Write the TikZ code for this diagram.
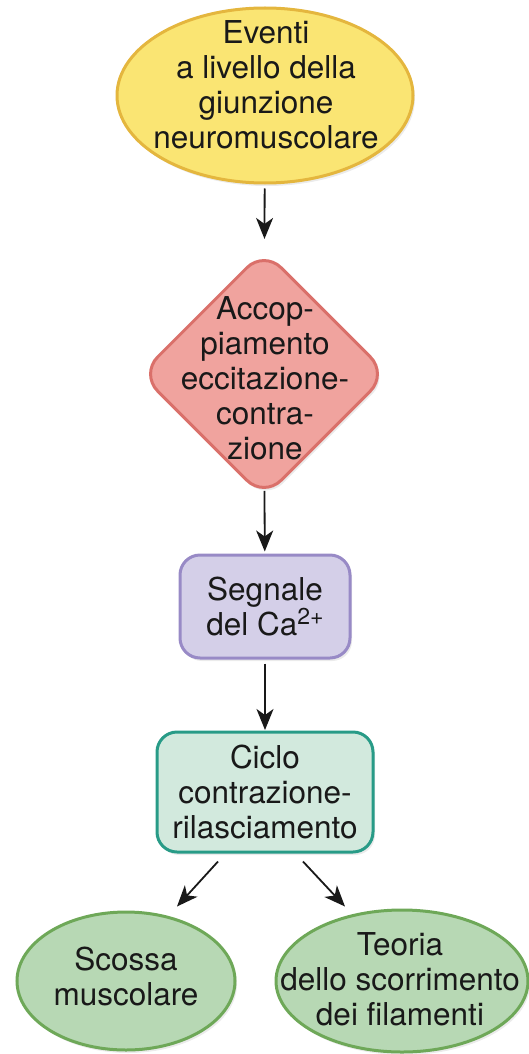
\documentclass[tikz,border=0pt]{standalone}
\usepackage{fontspec}
\setmainfont{TeX Gyre Heros}
\usetikzlibrary{arrows.meta,shapes.geometric,shadows}
\definecolor{yelF}{RGB}{250,229,115}
\definecolor{yelD}{RGB}{228,182,62}
\definecolor{redF}{RGB}{240,163,158}
\definecolor{redD}{RGB}{218,112,106}
\definecolor{purF}{RGB}{212,207,232}
\definecolor{purD}{RGB}{152,138,198}
\definecolor{teaF}{RGB}{210,233,221}
\definecolor{teaD}{RGB}{40,155,135}
\definecolor{greF}{RGB}{183,216,180}
\definecolor{greD}{RGB}{110,168,88}
\definecolor{txtC}{RGB}{25,25,25}
\tikzset{
  x=1pt, y=-1pt,
  shad/.style={drop shadow={opacity=0.16, shadow xshift=2pt, shadow yshift=-3pt}},
  txt/.style={align=center, inner sep=0pt, text=txtC, font=\fontsize{31.5}{35}\selectfont},
  oval/.style={ellipse, line width=3pt, inner sep=0pt, shad},
  rbox/.style={rectangle, rounded corners=20pt, line width=3pt, inner sep=0pt, shad, txt},
  arr/.style={line width=1.8pt, draw=black!90, -{Stealth[length=21pt,width=17pt,inset=6pt]}}
}
\newcommand{\supCa}{\raisebox{0.36em}{\fontsize{23}{23}\selectfont 2+}}
\begin{document}
\begin{tikzpicture}
\useasboundingbox (0,0) rectangle (529,1054);
% top ellipse
\node[oval, fill=yelF, draw=yelD, minimum width=296pt, minimum height=175pt] (ev) at (265,95.5) {};
\node[txt] (evt) at (266,85) {Eventi\\a livello della\\giunzione\\neuromuscolare};
% diamond
\node[diamond, fill=redF, draw=redD, line width=3pt, rounded corners=24pt, inner sep=0pt, minimum width=248pt, minimum height=248pt, shad] (acc) at (264,374) {};
\node[txt] (acct) at (265,378) {Accop-\\piamento\\eccitazione-\\contra-\\zione};
% purple box
\node[rbox, fill=purF, draw=purD, minimum width=170pt, minimum height=103pt] (ca) at (265,606.5) {Segnale\\del Ca\supCa};
% teal box
\node[rbox, fill=teaF, draw=teaD, minimum width=216pt, minimum height=120pt] (cyc) at (265,792) {Ciclo\\contrazione-\\rilasciamento};
% bottom ellipses
\node[oval, fill=greF, draw=greD, minimum width=218pt, minimum height=138pt] (sc) at (126,981) {};
\node[txt] (sct) at (126,976) {Scossa\\muscolare};
\node[oval, fill=greF, draw=greD, minimum width=252pt, minimum height=142pt] (te) at (402,981) {};
\node[txt] (tet) at (400,979) {Teoria\\dello scorrimento\\dei filamenti};
% connectors
\draw[arr, shorten <=4pt, shorten >=10pt] (ev) -- (acc);
\draw[arr, shorten <=-8pt, shorten >=2pt] (acc) -- (ca);
\draw[arr, shorten <=4pt, shorten >=0.5pt] (ca) -- (cyc);
\draw[arr] ([xshift=-47pt,yshift=-8pt]cyc.south) -- ([xshift=51pt,yshift=4pt]sc.north);
\draw[arr] ([xshift=38pt,yshift=-8pt]cyc.south) -- ([xshift=-57pt,yshift=2pt]te.north);
\end{tikzpicture}
\end{document}
